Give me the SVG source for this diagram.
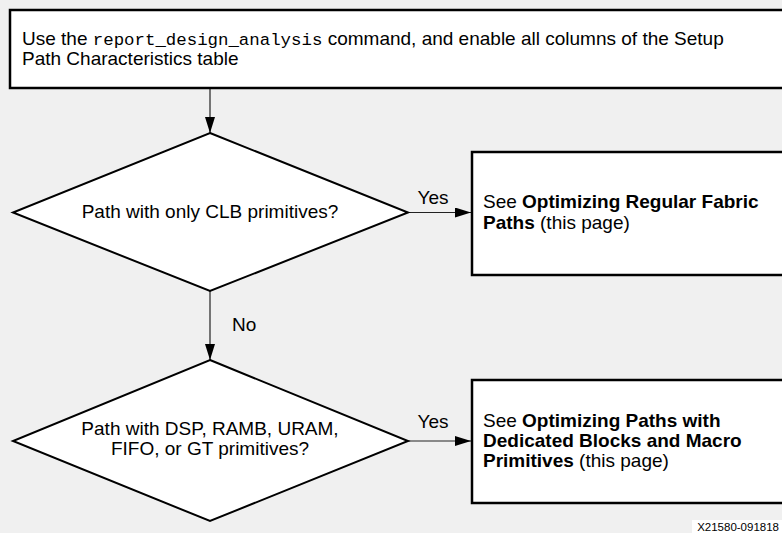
<svg xmlns="http://www.w3.org/2000/svg" width="782" height="533" viewBox="0 0 782 533">
<style>
.t{font-family:"Liberation Sans",Arial,sans-serif;font-size:19px;fill:#000}
.m{font-family:"Liberation Mono","Courier New",monospace;font-size:17.4px}
.b{font-weight:bold}
.box{fill:#fff;stroke:#000;stroke-width:2.5}
.dia{fill:#fff;stroke:#000;stroke-width:2}
.ln{stroke:#222;stroke-width:1.2;fill:none}
</style>
<defs>
<marker id="ah" markerWidth="16" markerHeight="10" refX="16" refY="5" orient="auto" markerUnits="userSpaceOnUse">
<path d="M0,0 L16,5 L0,10 Z" fill="#000"/>
</marker>
</defs>
<rect width="782" height="533" fill="#f0f0f0"/>
<g id="connectors">
<line class="ln" x1="210" y1="89" x2="210" y2="133" marker-end="url(#ah)"/>
<line class="ln" x1="408" y1="212.5" x2="471" y2="212.5" marker-end="url(#ah)"/>
<line class="ln" x1="210" y1="291" x2="210" y2="360" marker-end="url(#ah)"/>
<line class="ln" x1="408" y1="441" x2="471" y2="441" marker-end="url(#ah)"/>
<text class="t" x="433" y="204" text-anchor="middle">Yes</text>
<text class="t" x="232" y="331">No</text>
<text class="t" x="433" y="428" text-anchor="middle">Yes</text>
</g>
<g id="start">
<rect class="box" x="10" y="10" width="800" height="78"/>
<text class="t" x="22" y="45">Use the <tspan class="m">report_design_analysis</tspan> command, and enable all columns of the Setup</text>
<text class="t" x="22" y="65">Path Characteristics table</text>
</g>
<g id="decision1">
<polygon class="dia" points="210,133 408,212.5 210,291 13,212.5"/>
<text class="t" x="210" y="218" text-anchor="middle">Path with only CLB primitives?</text>
</g>
<g id="result1">
<rect class="box" x="472" y="152" width="330" height="123"/>
<text class="t" x="483" y="208">See <tspan class="b">Optimizing Regular Fabric</tspan></text>
<text class="t" x="483" y="229"><tspan class="b">Paths</tspan> (this page)</text>
</g>
<g id="decision2">
<polygon class="dia" points="210,360 408,441 210,521 13,441"/>
<text class="t" x="210" y="435" text-anchor="middle">Path with DSP, RAMB, URAM,</text>
<text class="t" x="210" y="455" text-anchor="middle">FIFO, or GT primitives?</text>
</g>
<g id="result2">
<rect class="box" x="472" y="380" width="330" height="123"/>
<text class="t" x="483" y="427">See <tspan class="b">Optimizing Paths with</tspan></text>
<text class="t" x="483" y="447"><tspan class="b">Dedicated Blocks and Macro</tspan></text>
<text class="t" x="483" y="467"><tspan class="b">Primitives</tspan> (this page)</text>
</g>
<g id="figid">
<rect x="692" y="520" width="90" height="13" fill="#fff"/>
<text x="779" y="531" text-anchor="end" style="font-family:'Liberation Sans',Arial,sans-serif;font-size:11.5px">X21580-091818</text>
</g>
</svg>
